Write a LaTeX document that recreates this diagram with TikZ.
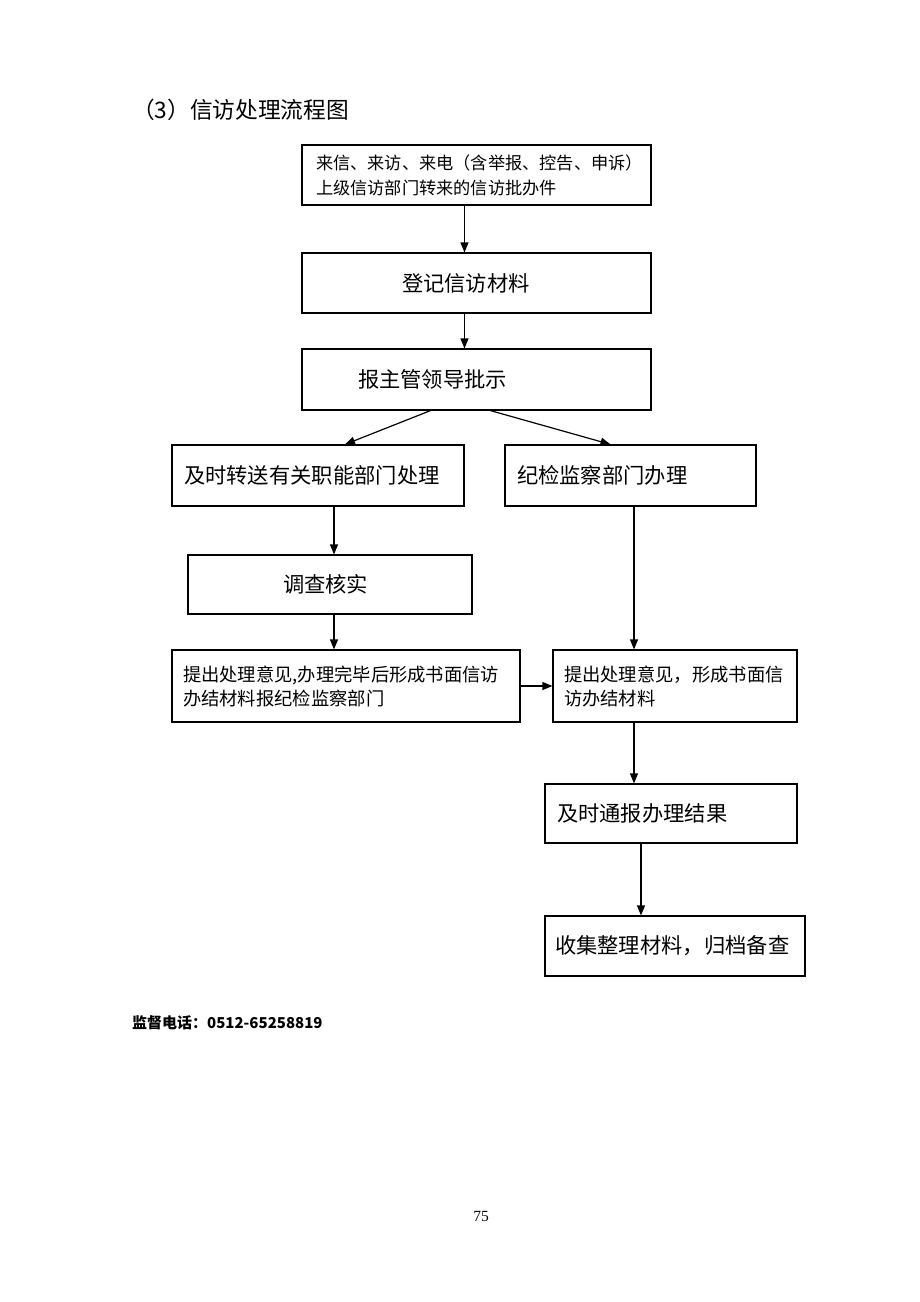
\documentclass[tikz,border=0pt]{standalone}
\usepackage{fontspec}
\setmainfont{Noto Sans CJK SC}
\newfontfamily\pagefont{Liberation Serif}
\usetikzlibrary{arrows, arrows.meta}

\begin{document}
\begin{tikzpicture}[x=1pt,y=-1pt,
  box/.style={draw,line width=1.2pt,inner sep=0pt,align=left,font=\fontsize{21.3}{26}\selectfont},
  smallbox/.style={box,font=\fontsize{18.3}{24}\selectfont},
  flow/.style={line width=1.2pt,-{Triangle[length=10pt,width=8pt]}}]
\useasboundingbox[fill=white] (0,0) rectangle (920,1302);
\node[anchor=west,inner sep=0pt,font=\fontsize{22.7}{26}\selectfont] (title) at (132,110){（3）信访处理流程图};

\node[box,minimum width=349,minimum height=60,text width=321,font=\fontsize{17.2}{25}\selectfont] (laixin) at (476.5,175){来信、来访、来电（含举报、控告、申诉）\\上级信访部门转来的信访批办件};
\node[box,minimum width=349,minimum height=60,text width=149] (dengji) at (476.5,283){登记信访材料};
\node[box,minimum width=349,minimum height=61,text width=237] (pishi) at (476.5,379.5){报主管领导批示};
\node[box,minimum width=292,minimum height=61,text width=268] (zhuansong) at (318,475.5){及时转送有关职能部门处理};
\node[box,minimum width=251,minimum height=61,text width=227] (jijian) at (630.5,475.5){纪检监察部门办理};
\node[box,minimum width=284,minimum height=59,text width=94] (diaocha) at (330,584.5){调查核实};
\node[smallbox,minimum width=348,minimum height=72,text width=326] (yijianL) at (346,686){提出处理意见,办理完毕后形成书面信访\\办结材料报纪检监察部门};
\node[smallbox,minimum width=244,minimum height=72,text width=222] (yijianR) at (675,686){提出处理意见，形成书面信\\访办结材料};
\node[box,minimum width=252,minimum height=59,text width=228] (tongbao) at (671,813.5){及时通报办理结果};
\node[box,minimum width=260,minimum height=60,text width=240] (guidang) at (675,946){收集整理材料，归档备查};

\draw[flow] ([xshift=-12]laixin.south) -- ([xshift=-12]dengji.north);\draw[flow] ([xshift=-12]dengji.south) -- ([xshift=-12]pishi.north);
\draw[flow] ([xshift=-46]pishi.south) -- ([xshift=27]zhuansong.north);\draw[flow] ([xshift=14]pishi.south) -- ([xshift=-20]jijian.north);
\draw[flow] ([xshift=16]zhuansong.south) -- ([xshift=16]zhuansong.south |- diaocha.north);
\draw[flow] ([xshift=4]diaocha.south) -- ([xshift=4]diaocha.south |- yijianL.north);
\draw[flow] ([xshift=3.5]jijian.south) -- ([xshift=3.5]jijian.south |- yijianR.north);
\draw[flow] (yijianL.east) -- (yijianR.west);
\draw[flow] ([xshift=-41]yijianR.south) -- ([xshift=-41]yijianR.south |- tongbao.north);
\draw[flow] ([xshift=-30]tongbao.south) -- ([xshift=-30]tongbao.south |- guidang.north);

\node[anchor=west,inner sep=0pt,font=\bfseries\fontsize{15}{18}\selectfont] (tel) at (132,1023){监督电话：0512-65258819};
\node[inner sep=0pt,font=\pagefont\fontsize{15.5}{18}\selectfont] (page) at (481,1216){75};
\end{tikzpicture}
\end{document}
